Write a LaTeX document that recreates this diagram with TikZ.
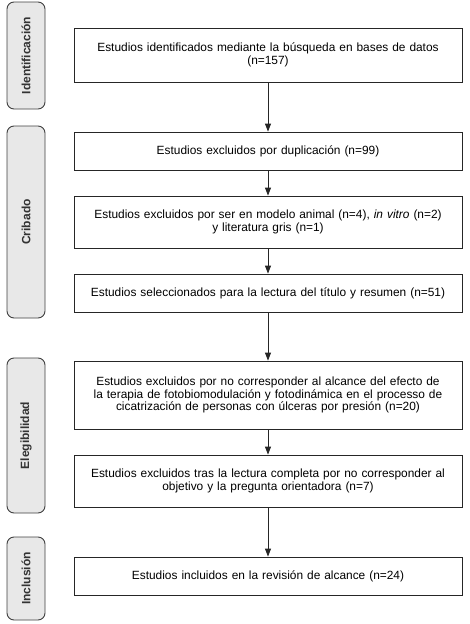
\documentclass[tikz,border=0pt]{standalone}
\usepackage{fontspec}
\setmainfont{Liberation Sans}
\usetikzlibrary{arrows.meta}
\begin{document}
\begin{tikzpicture}[x=1pt,y=-1pt,
  stagebox/.style={draw=black!75, fill=black!9, rounded corners=7pt, line width=0.9pt,
    rotate=90, minimum height=38pt, inner sep=0pt, font=\fontsize{12}{14}\selectfont\bfseries, text=black!80},
  flowbox/.style={draw=black!85, line width=0.8pt, minimum width=388pt, inner sep=2pt,
    text width=382pt, align=center, font=\fontsize{11.9}{12.7}\selectfont},
  flowarrow/.style={draw=black!85, line width=0.8pt, -{Triangle[length=8pt,width=6pt]}}]
\useasboundingbox (0,0) rectangle (469,624);
\node[stagebox, minimum width=107pt] (s1) at (26,55.5) {Identificación};
\node[stagebox, minimum width=192pt] (s2) at (26,222) {Cribado};
\node[stagebox, minimum width=155pt] (s3) at (26,435.5) {Elegibilidad};
\node[stagebox, minimum width=83pt] (s4) at (26,578.5) {Inclusión};

\node[flowbox, minimum height=54pt] (b1) at (268,55) {Estudios identificados mediante la búsqueda en bases de datos\\(n=157)};
\node[flowbox, minimum height=38pt] (b2) at (268,151) {Estudios excluidos por duplicación (n=99)};
\node[flowbox, minimum height=52pt] (b3) at (268,222) {Estudios excluidos por ser en modelo animal (n=4), \textit{in vitro} (n=2)\\y literatura gris (n=1)};
\node[flowbox, minimum height=38pt] (b4) at (268,293) {Estudios seleccionados para la lectura del título y resumen (n=51)};
\node[flowbox, minimum height=68pt] (b5) at (268,395) {Estudios excluidos por no corresponder al alcance del efecto de\\la terapia de fotobiomodulación y fotodinámica en el processo de\\cicatrización de personas con úlceras por presión (n=20)};
\node[flowbox, minimum height=52pt] (b6) at (268,481) {Estudios excluidos tras la lectura completa por no corresponder al\\objetivo y la pregunta orientadora (n=7)};
\node[flowbox, minimum height=38pt] (b7) at (268,576) {Estudios incluidos en la revisión de alcance (n=24)};

\draw[flowarrow] (b1) -- (b2);
\draw[flowarrow] (b2) -- (b3);
\draw[flowarrow] (b3) -- (b4);
\draw[flowarrow] (b4) -- (b5);
\draw[flowarrow] (b5) -- (b6);
\draw[flowarrow] (b6) -- (b7);
\end{tikzpicture}
\end{document}
